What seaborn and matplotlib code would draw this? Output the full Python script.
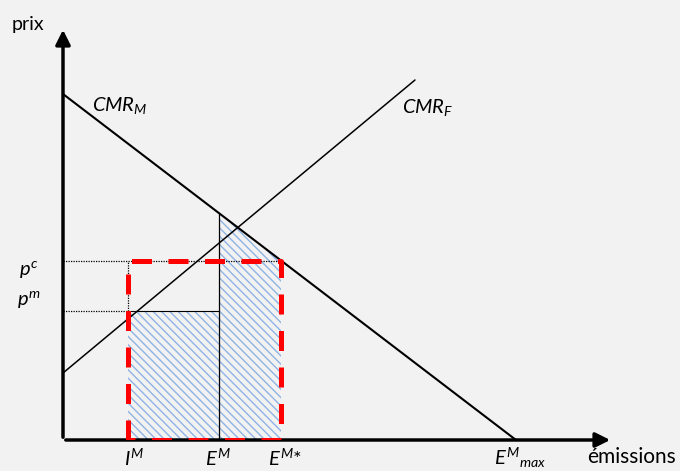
import numpy as np
import seaborn as sns
import matplotlib
matplotlib.use("Agg")
import matplotlib.pyplot as plt

# courbes (unites arbitraires)
cmr_m_x = [0, 45.3]
cmr_m_y = [34.6, 0]
cmr_f_x = [0, 35.2]
cmr_f_y = [6.7, 36.0]

# niveaux de prix et d'emissions
p_c = 17.9
p_m = 12.9
I_M = 6.5
E_M = 15.6
E_star = 21.8
E_max = 45.3

bg = "#f2f2f2"
sns.set_theme(style="white", rc={"figure.facecolor": bg, "axes.facecolor": bg,
                                 "text.color": "black"})
plt.rcParams["font.family"] = ["Lato", "DejaVu Sans"]
plt.rcParams["mathtext.fontset"] = "custom"
plt.rcParams["mathtext.rm"] = "Lato"
plt.rcParams["mathtext.it"] = "Lato:italic"
plt.rcParams["hatch.linewidth"] = 1.0

fig = plt.figure(figsize=(6.8, 4.71), dpi=100)
ax = fig.add_axes([63 / 680, 31 / 471, 550 / 680, 413 / 471])
ax.set_xlim(0, 55)
ax.set_ylim(0, 41.3)
for s in ax.spines.values():
    s.set_visible(False)
ax.set_xticks([])
ax.set_yticks([])

# zones hachurees
ax.fill_between([I_M, E_M], 0, p_m, facecolor="none", edgecolor="#8fb4e3",
                hatch="\\\\\\\\", linewidth=0)
xr = np.array([E_M, E_star])
ax.fill_between(xr, 0, np.interp(xr, cmr_m_x, cmr_m_y),
                facecolor="none", edgecolor="#8fb4e3", hatch="\\\\\\\\", linewidth=0)

# courbes CMR
sns.lineplot(x=cmr_m_x, y=cmr_m_y, ax=ax, color="black", lw=1.5, sort=False)
sns.lineplot(x=cmr_f_x, y=cmr_f_y, ax=ax, color="black", lw=1.1, sort=False)

# lignes de repere
ax.plot([0, E_star], [p_c, p_c], color="black", lw=0.9, ls=(0, (1, 1)))
ax.plot([0, I_M], [p_m, p_m], color="black", lw=0.9, ls=(0, (1, 1)))
ax.plot([I_M, E_M], [p_m, p_m], color="black", lw=0.8)
ax.plot([I_M, I_M], [p_m, p_c], color="black", lw=0.9, ls=(0, (1, 1)))
y_em = np.interp(E_M, cmr_m_x, cmr_m_y)
ax.plot([E_M, E_M], [0, y_em], color="black", lw=0.9)

# rectangle rouge
rect_x = [I_M, I_M, E_star, E_star, I_M]
rect_y = [0, p_c, p_c, 0, 0]
ax.plot(rect_x, rect_y, color="red", lw=3.6, dashes=(4, 3.3), zorder=5)

# axes avec fleches
ax.annotate("", xy=(0, 1.0), xytext=(0, 0), xycoords="axes fraction",
            arrowprops=dict(arrowstyle="-|>", lw=2.5, color="black", mutation_scale=22))
ax.annotate("", xy=(1.0, 0), xytext=(0, 0), xycoords="axes fraction",
            arrowprops=dict(arrowstyle="-|>", lw=2.5, color="black", mutation_scale=22))

fs = 14.5
ax.text(-3.5, 41.5, "prix", fontsize=fs - 0.5, ha="center", va="center", clip_on=False)
ax.text(2.9, 33.4, r"$CMR_M$", fontsize=fs, ha="left", va="center")
ax.text(33.9, 33.2, r"$CMR_F$", fontsize=fs, ha="left", va="center")
ax.text(-3.4, p_c - 0.8, r"$p^c$", fontsize=fs, ha="center", va="center", clip_on=False)
ax.text(-3.4, p_m + 1.1, r"$p^m$", fontsize=fs, ha="center", va="center", clip_on=False)

ly = -1.8
ax.text(I_M + 0.6, ly, r"$I^M$", fontsize=fs, ha="center", va="center", clip_on=False)
ax.text(E_M - 0.1, ly, r"$E^M$", fontsize=fs, ha="center", va="center", clip_on=False)
ax.text(E_star + 0.4, ly, r"$E^{M}$*", fontsize=fs, ha="center", va="center", clip_on=False)
ax.text(E_max + 0.4, ly, r"$E^{M}{}_{max}$", fontsize=fs, ha="center", va="center", clip_on=False)
ax.text(56.9, ly + 0.1, "émissions", fontsize=fs + 0.5, ha="center", va="center", clip_on=False)

fig.savefig("out.png", dpi=100, facecolor=bg)
